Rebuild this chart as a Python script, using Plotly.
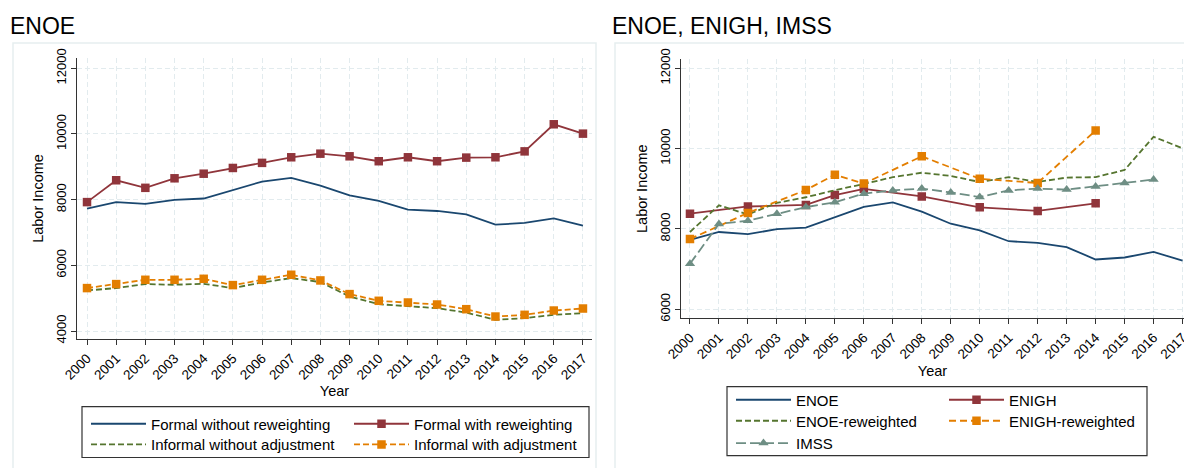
import plotly.graph_objects as go

# ---------------- data ----------------
years = list(range(2000, 2018))
year_labels = [str(y) for y in years]

formal_without_rw = [7730, 7925, 7870, 7995, 8035, 8300, 8550, 8660, 8430, 8130,
                     7965, 7695, 7655, 7550, 7240, 7290, 7430, 7210]
formal_with_rw = [7925, 8590, 8360, 8650, 8790, 8965, 9120, 9290, 9400, 9320,
                  9170, 9290, 9170, 9280, 9290, 9470, 10295, 10010]
informal_without_adj = [5235, 5307, 5429, 5408, 5438, 5307, 5478, 5612, 5490, 5050,
                        4817, 4745, 4695, 4562, 4340, 4390, 4493, 4543]
informal_with_adj = [5307, 5429, 5560, 5560, 5590, 5398, 5560, 5713, 5540, 5124,
                     4920, 4868, 4807, 4665, 4441, 4493, 4624, 4685]

enigh_years = [2000, 2002, 2004, 2005, 2006, 2008, 2010, 2012, 2014]
enigh = [8380, 8560, 8600, 8845, 9000, 8810, 8540, 8450, 8640]
enigh_rw = [7750, 8400, 8970, 9350, 9130, 9810, 9250, 9145, 10450]

imss_years = list(range(2000, 2017))
imss = [7135, 8125, 8205, 8380, 8545, 8665, 8880, 8960, 9005, 8910,
        8795, 8960, 9005, 8980, 9060, 9145, 9230]

left_yticks = [4000, 6000, 8000, 10000, 12000]
right_yticks = [6000, 8000, 10000, 12000]

# ---------------- style ----------------
NAVY = "#1A476F"
MAROON = "#90353B"
GREEN = "#55752F"
ORANGE = "#E37E00"
TEAL = "#6E8E84"
GRID = "#E2EBEE"
FONT = "Liberation Sans, Arial, sans-serif"
W, H = 1184, 468


def px(x):
    return x / W


def py(y):
    return 1 - y / H


fig = go.Figure()

LW = 1.8


def add(x, y, name, color, dash, symbol, xa, ya, legend):
    mode = "lines+markers" if symbol else "lines"
    fig.add_trace(go.Scatter(
        x=x, y=y, name=name, mode=mode, xaxis=xa, yaxis=ya, legend=legend,
        line=dict(color=color, width=LW, dash=dash),
        marker=dict(symbol=symbol or "circle", size=9 if symbol == "triangle-up" else 8.5,
                    color=color),
        cliponaxis=False if xa == "x" else True,
    ))


# left panel
add(years, formal_without_rw, "Formal without reweighting", NAVY, "solid", None, "x", "y", "legend")
add(years, formal_with_rw, "Formal with reweighting", MAROON, "solid", "square", "x", "y", "legend")
add(years, informal_without_adj, "Informal without adjustment", GREEN, "6px,3px", None, "x", "y", "legend2")
add(years, informal_with_adj, "Informal with adjustment", ORANGE, "6px,3px", "square", "x", "y", "legend2")

# right panel
add(years, formal_without_rw, "ENOE", NAVY, "solid", None, "x2", "y2", "legend3")
add(enigh_years, enigh, "ENIGH", MAROON, "solid", "square", "x2", "y2", "legend3")
add(years, formal_with_rw, "ENOE-reweighted", GREEN, "6px,3px", None, "x2", "y2", "legend4")
add(enigh_years, enigh_rw, "ENIGH-reweighted", ORANGE, "7px,4px", "square", "x2", "y2", "legend4")
add(imss_years, imss, "IMSS", TEAL, "10px,4px", "triangle-up", "x2", "y2", "legend5")

xtickfont = dict(family=FONT, size=13.5, color="#000")
ytickfont = dict(family=FONT, size=13, color="#000")
titlefont = dict(family=FONT, size=14.5, color="#000")

xcommon = dict(
    tickmode="array", tickvals=years, ticktext=year_labels, tickangle=-45,
    showline=True, linecolor="#333", linewidth=1.2, ticks="outside", ticklen=5,
    tickcolor="#333", showgrid=True, gridcolor=GRID, griddash="5px,3px", gridwidth=1.2,
    zeroline=False, tickfont=xtickfont, automargin=False, ticklabeloverflow="allow",
    title=dict(text="Year", font=titlefont, standoff=4),
)
ycommon = dict(
    tickmode="array", tickangle=-90,
    showline=True, linecolor="#333", linewidth=1.2, ticks="outside", ticklen=5,
    tickcolor="#333", showgrid=True, gridcolor=GRID, griddash="5px,3px", gridwidth=1.2,
    zeroline=False, tickfont=ytickfont, automargin=False,
    title=dict(text="Labor Income", font=titlefont, standoff=6),
)

fig.update_layout(
    width=W, height=H, autosize=False,
    margin=dict(l=0, r=0, t=0, b=0),
    paper_bgcolor="white", plot_bgcolor="white",
    font=dict(family=FONT, color="#000"),
    xaxis=dict(domain=[px(77), px(592)], range=[1999.657, 2017.31], anchor="y", **xcommon),
    yaxis=dict(domain=[py(339), py(58)], range=[3757, 12313], anchor="x",
               tickvals=left_yticks, ticktext=[str(v) for v in left_yticks], **ycommon),
    xaxis2=dict(domain=[px(681), 1], range=[1999.69, 2017.05], anchor="y2", **xcommon),
    yaxis2=dict(domain=[py(318.3), py(59)], range=[5776, 12232], anchor="x2",
                tickvals=right_yticks, ticktext=[str(v) for v in right_yticks], **ycommon),
)

legfont = dict(family=FONT, size=15, color="#000")


def leg(xpix, ypix, entry):
    return dict(orientation="h", x=px(xpix), y=py(ypix), xanchor="left", yanchor="middle",
                xref="paper", yref="paper", bgcolor="rgba(0,0,0,0)", borderwidth=0,
                font=legfont, entrywidth=entry, entrywidthmode="pixels",
                itemwidth=55, itemclick=False, tracegroupgap=0)


fig.update_layout(
    legend=leg(86, 424, 193),
    legend2=leg(86, 444.7, 193),
    legend3=leg(731, 400, 143),
    legend4=leg(731, 421, 143),
    legend5=leg(731, 443.3, 143),
)

shapes = [
    # outer panel frames
    dict(type="rect", xref="paper", yref="paper", x0=px(13), x1=px(596), y0=py(475), y1=py(43),
         line=dict(color="#E6EEEF", width=1.5), layer="below"),
    dict(type="rect", xref="paper", yref="paper", x0=px(615), x1=px(1195), y0=py(475), y1=py(43),
         line=dict(color="#E6EEEF", width=1.5), layer="below"),
    # legend boxes
    dict(type="rect", xref="paper", yref="paper", x0=px(82), x1=px(589), y0=py(457.5), y1=py(406.6),
         line=dict(color="#333", width=1.2)),
    dict(type="rect", xref="paper", yref="paper", x0=px(727), x1=px(1147), y0=py(455.7), y1=py(386.7),
         line=dict(color="#333", width=1.2)),
]
fig.update_layout(shapes=shapes)

fig.add_annotation(text="ENOE", x=px(8), y=py(25.5), xref="paper", yref="paper",
                   xanchor="left", yanchor="middle", showarrow=False,
                   font=dict(family=FONT, size=23, color="#000"))
fig.add_annotation(text="ENOE, ENIGH, IMSS", x=px(610), y=py(25.5), xref="paper", yref="paper",
                   xanchor="left", yanchor="middle", showarrow=False,
                   font=dict(family=FONT, size=23, color="#000"))

fig.write_html(
    "out.html",
    config={"displayModeBar": False},
    post_script="document.body.style.margin='0';document.body.style.overflow='hidden';",
)
